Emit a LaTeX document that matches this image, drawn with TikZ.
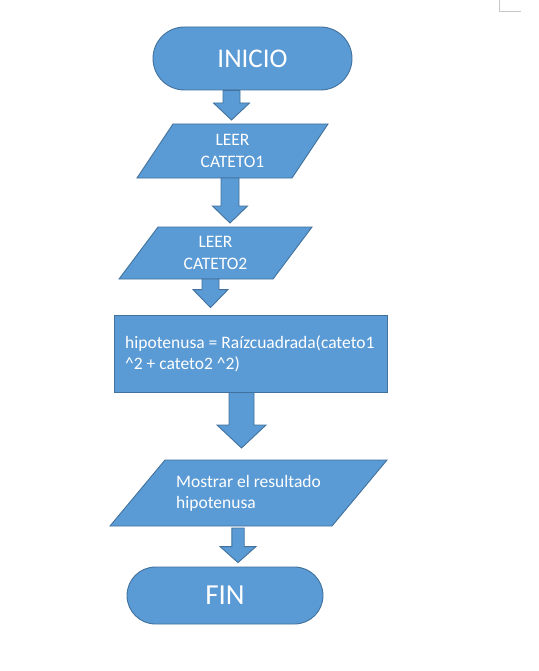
\documentclass[tikz,border=0pt]{standalone}
\usepackage{fontspec}
\setmainfont{Carlito}
\usetikzlibrary{calc}
\definecolor{offblue}{HTML}{5B9BD5}
\definecolor{offline}{HTML}{41719C}
\tikzset{
  shapefill/.style={fill=offblue, draw=offline, line width=0.9pt},
  term/.style={shapefill, text=white, inner sep=0pt, font=\fontsize{27}{32}\selectfont},
  procbox/.style={shapefill, inner sep=0pt},
  paraframe/.style={inner sep=0pt, outer sep=0pt},
  smalltext/.style={text=white, inner sep=0pt, font=\fontsize{17.5}{21.5}\selectfont},
  barrow/.style={shapefill, line join=miter}
}
% #1 x centre, #2 from node, #3 to node, #4 half shaft, #5 half head, #6 head length, #7 top gap, #8 tip gap
\newcommand\blockarr[8]{%
  \path[barrow] let \p1=(#2.south), \p2=(#3.north) in
    (#1pt-#4pt,\y1-#7pt) -- (#1pt+#4pt,\y1-#7pt) -- (#1pt+#4pt,\y2+#8pt+#6pt)
    -- (#1pt+#5pt,\y2+#8pt+#6pt) -- (#1pt,\y2+#8pt) -- (#1pt-#5pt,\y2+#8pt+#6pt)
    -- (#1pt-#4pt,\y2+#8pt+#6pt) -- cycle;}
\begin{document}
\begin{tikzpicture}[x=1pt,y=-1pt]
\useasboundingbox[fill=white] (0,0) rectangle (538,671);
% corner mark
\draw[gray!45, line width=0.8pt] (499,0) -- (499,11) -- (521,11);

% INICIO
\node[term, minimum width=199pt, minimum height=63pt, rounded corners=31.5pt] (inicio) at (252.5,58.5) {INICIO};

% parallelogram 1
\node[paraframe, minimum width=191pt, minimum height=54pt] (p1) at (232.5,151) {};
\draw[shapefill] ([xshift=36pt]p1.north west) -- (p1.north east) -- ([xshift=-36pt]p1.south east) -- (p1.south west) -- cycle;
\node[smalltext, align=center] (t1) at (p1.center) {LEER\\CATETO1};

% parallelogram 2
\node[paraframe, minimum width=193pt, minimum height=52pt] (p2) at (215.5,253) {};
\draw[shapefill] ([xshift=39pt]p2.north west) -- (p2.north east) -- ([xshift=-39pt]p2.south east) -- (p2.south west) -- cycle;
\node[smalltext, align=center] (t2) at (p2.center) {LEER\\CATETO2};

% process
\node[procbox, minimum width=273pt, minimum height=77pt] (proc) at (250.5,353.5) {};
\node[smalltext, align=left, anchor=west] (tproc) at (125,354) {hipotenusa = Raízcuadrada(cateto1\\\^{}2 + cateto2 \^{}2)};

% parallelogram 3
\node[paraframe, minimum width=277pt, minimum height=66pt] (p3) at (248.5,493) {};
\draw[shapefill] ([xshift=55pt]p3.north west) -- (p3.north east) -- ([xshift=-55pt]p3.south east) -- (p3.south west) -- cycle;
\node[smalltext, align=left, anchor=west] (t3) at (176,493.5) {Mostrar el resultado\\hipotenusa};

% FIN
\node[term, minimum width=196pt, minimum height=57pt, rounded corners=28.5pt, font=\fontsize{29}{34}\selectfont] (fin) at (225,595.5) {FIN};

% block arrows
\blockarr{231.5}{inicio}{p1}{8.5}{18}{17}{0}{4}
\blockarr{230}{p1}{p2}{9}{17.5}{17}{0}{4}
\blockarr{210.5}{p2}{proc}{8.5}{17.5}{18}{0}{7}
\blockarr{241.5}{proc}{p3}{12.5}{24.5}{23}{0}{12}
\blockarr{238}{p3}{fin}{6.2}{18}{16}{2}{4}
\end{tikzpicture}
\end{document}
